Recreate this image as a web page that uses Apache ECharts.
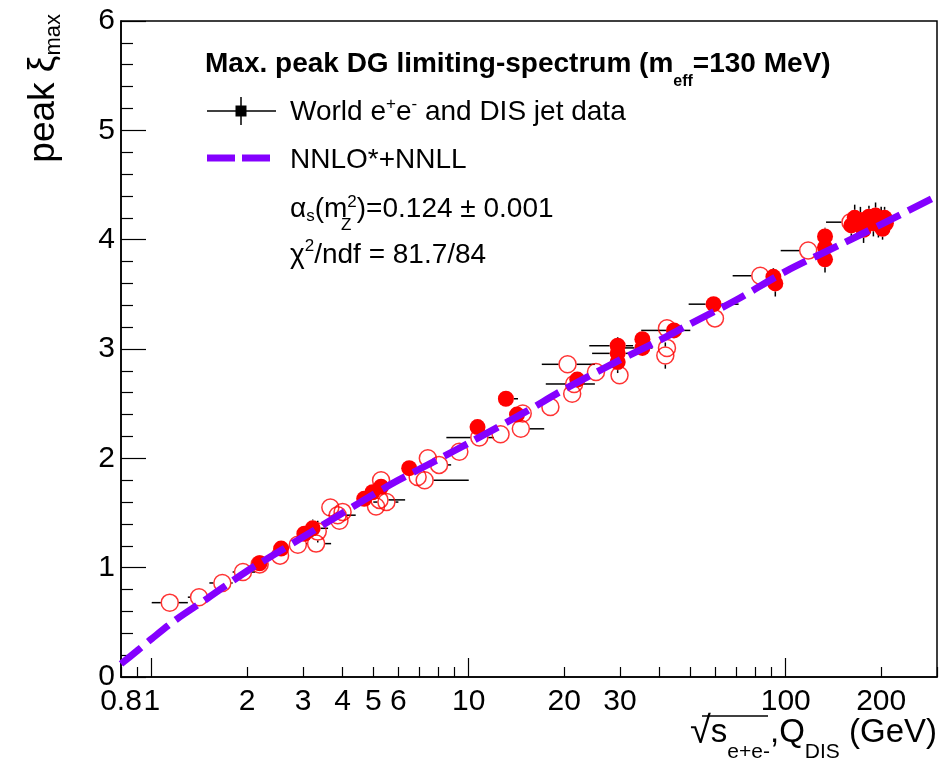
<!DOCTYPE html>
<html><head><meta charset="utf-8">
<script src="https://cdn.jsdelivr.net/npm/echarts@6/dist/echarts.min.js"></script>
<style>html,body{margin:0;padding:0;background:#fff}#c{width:949px;height:763px}</style>
</head><body><div id="c"></div>
<script>
// ---- tick labels / ticks (x in GeV) ----
const xLabelValues = [0.8, 1, 2, 3, 4, 5, 6, 10, 20, 30, 100, 200];
const xMinorTicks = [0.8, 0.9, 2, 3, 4, 5, 6, 7, 8, 9, 20, 30, 40, 50, 60, 70, 80, 90, 200, 300];
const xMajorTicks = [1, 10, 100];
const xRange = [0.8, 300];
const yRange = [0, 6];

// ---- NNLO*+NNLL curve ----
const curveX = [0.8, 0.9, 1.0, 1.2, 1.5, 2.0, 2.5, 3.0, 4.0, 5.0, 6.0, 8.0, 10, 15, 20, 30, 40, 50, 70, 100, 150, 200, 300];
const curveY = [0.12, 0.24, 0.35, 0.53, 0.72, 0.97, 1.14, 1.28, 1.50, 1.67, 1.80, 1.99, 2.14, 2.42, 2.63, 2.90, 3.08, 3.23, 3.45, 3.71, 3.96, 4.14, 4.40];

// ---- data points: [x, y, xLow, xHigh, yErr]  (xLow/xHigh = 0 -> no x error) ----
const openPoints = [
  [1.14, 0.68, 1.00, 1.30, 0.03], [1.41, 0.73, 1.30, 1.52, 0.02], [1.67, 0.86, 1.52, 1.80, 0.02],
  [1.94, 0.96, 1.80, 2.12, 0.03], [2.19, 1.03, 0, 0, 0.02], [2.54, 1.11, 0, 0, 0.03],
  [2.89, 1.21, 0, 0, 0.03], [3.30, 1.22, 3.07, 3.68, 0.03], [3.34, 1.33, 3.10, 3.55, 0.10],
  [3.66, 1.55, 0, 0, 0.03], [3.86, 1.48, 3.60, 4.40, 0.03], [4.00, 1.51, 0, 0, 0.03],
  [3.91, 1.43, 0, 0, 0.03], [5.10, 1.56, 0, 0, 0.03], [5.23, 1.62, 4.90, 6.30, 0.03],
  [5.29, 1.80, 0, 0, 0.03], [5.50, 1.60, 5.00, 6.00, 0.03], [6.90, 1.83, 0, 0, 0.03],
  [7.26, 1.80, 7.00, 10.0, 0.04], [7.43, 2.00, 0, 0, 0.03], [8.06, 1.94, 7.60, 8.80, 0.03],
  [9.34, 2.06, 0, 0, 0.03], [10.8, 2.19, 8.50, 12.0, 0.03], [12.6, 2.22, 0, 0, 0.03],
  [14.8, 2.41, 0, 0, 0.03], [14.6, 2.27, 13.9, 17.3, 0.03], [18.1, 2.47, 0, 0, 0.03],
  [20.5, 2.86, 17.0, 25.0, 0.03], [21.2, 2.59, 0, 0, 0.03], [21.5, 2.68, 17.5, 25.0, 0.03],
  [25.2, 2.79, 0, 0, 0.03], [29.9, 2.76, 0, 0, 0.04], [42.2, 3.19, 0, 0, 0.04],
  [42.2, 3.01, 0, 0, 0.05], [41.7, 2.94, 0, 0, 0.12], [59.8, 3.28, 0, 0, 0.05],
  [83.1, 3.67, 68.0, 88.0, 0.04], [117.7, 3.90, 96.4, 118.5, 0.04], [160, 4.16, 134, 196, 0.05]
];
const filledPoints = [
  [2.19, 1.04, 0, 0, 0.03], [2.56, 1.175, 0, 0, 0.03], [3.03, 1.31, 0, 0, 0.03],
  [3.22, 1.36, 3.10, 3.60, 0.08], [4.68, 1.63, 0, 0, 0.03], [4.97, 1.69, 0, 0, 0.03],
  [5.29, 1.74, 0, 0, 0.03], [6.49, 1.91, 0, 0, 0.03], [10.66, 2.286, 0, 0, 0.03],
  [13.1, 2.545, 12.5, 14.3, 0.04], [14.2, 2.40, 0, 0, 0.04], [22.0, 2.72, 0, 0, 0.04],
  [29.5, 3.03, 24.0, 33.0, 0.08], [29.5, 2.96, 24.5, 33.0, 0.06], [29.5, 2.88, 0, 0, 0.10],
  [35.3, 3.09, 0, 0, 0.06], [35.3, 3.01, 30.0, 38.0, 0.06], [44.4, 3.17, 35.0, 50.0, 0.05],
  [59.2, 3.41, 49.4, 71.0, 0.07], [91.4, 3.66, 0, 0, 0.08], [92.7, 3.60, 0, 0, 0.12],
  [133, 4.03, 0, 0, 0.08], [133, 3.93, 0, 0, 0.08], [133, 3.82, 0, 0, 0.12],
  [161, 4.13, 0, 0, 0.12], [165, 4.20, 0, 0, 0.12], [172, 4.18, 0, 0, 0.12],
  [176, 4.09, 0, 0, 0.12], [183, 4.21, 0, 0, 0.10], [189, 4.15, 0, 0, 0.12],
  [192, 4.22, 0, 0, 0.12], [196, 4.14, 0, 0, 0.12], [200, 4.18, 0, 0, 0.12],
  [202, 4.10, 0, 0, 0.10], [205, 4.20, 0, 0, 0.10], [207, 4.15, 0, 0, 0.10]
];

// ---- build ----
const L = Math.log10;
const FF = '"Liberation Sans", Arial, sans-serif';
const PURPLE = '#8400ff';
const toErr = p => [L(p[0]), p[1], p[2] > 0 ? L(p[2]) : L(p[0]), p[3] > 0 ? L(p[3]) : L(p[0]), p[4]];

function errRender(gap) {
  return function (params, api) {
    const x = api.value(0), y = api.value(1), xl = api.value(2), xh = api.value(3), ye = api.value(4);
    const c = api.coord([x, y]);
    const st = { stroke: '#000', lineWidth: 1.5 };
    const ch = [];
    const pl = api.coord([xl, y]), ph = api.coord([xh, y]);
    if (c[0] - pl[0] > gap) ch.push({ type: 'line', shape: { x1: pl[0], y1: c[1], x2: c[0] - gap, y2: c[1] }, style: st });
    if (ph[0] - c[0] > gap) ch.push({ type: 'line', shape: { x1: c[0] + gap, y1: c[1], x2: ph[0], y2: c[1] }, style: st });
    const pu = api.coord([x, y + ye]), pd = api.coord([x, y - ye]);
    if (c[1] - pu[1] > gap) ch.push({ type: 'line', shape: { x1: c[0], y1: pu[1], x2: c[0], y2: c[1] - gap }, style: st });
    if (pd[1] - c[1] > gap) ch.push({ type: 'line', shape: { x1: c[0], y1: c[1] + gap, x2: c[0], y2: pd[1] }, style: st });
    return { type: 'group', children: ch };
  };
}

const gridRect = { left: 121, right: 12, top: 21, bottom: 86 };
const xBase = { type: 'value', min: L(xRange[0]), max: L(xRange[1]), splitLine: { show: false } };
const fmtX = v => String(Math.round(Math.pow(10, v) * 10) / 10);

const chart = echarts.init(document.getElementById('c'), null, { renderer: 'canvas' });
chart.setOption({
  animation: false,
  backgroundColor: '#fff',
  grid: [
    Object.assign({ show: true, borderColor: '#000', borderWidth: 1.5, backgroundColor: 'transparent' }, gridRect),
    Object.assign({ show: false }, gridRect)
  ],
  xAxis: [
    Object.assign({}, xBase, {
      gridIndex: 0, position: 'bottom',
      axisLine: { show: true, onZero: false, lineStyle: { color: '#000', width: 1.5 } },
      axisTick: { show: true, inside: true, length: 10, customValues: xMinorTicks.map(L), lineStyle: { color: '#000', width: 1.2 } },
      axisLabel: { show: true, customValues: xLabelValues.map(L), formatter: fmtX, color: '#000', fontSize: 30, fontFamily: FF, margin: 10 }
    }),
    Object.assign({}, xBase, {
      gridIndex: 1, position: 'bottom',
      axisLine: { show: false, onZero: false },
      axisTick: { show: true, inside: true, length: 19, customValues: xMajorTicks.map(L), lineStyle: { color: '#000', width: 1.2 } },
      axisLabel: { show: false }
    })
  ],
  yAxis: [
    {
      type: 'value', gridIndex: 0, min: yRange[0], max: yRange[1], interval: 1, position: 'left',
      splitLine: { show: false },
      axisLine: { show: true, onZero: false, lineStyle: { color: '#000', width: 1.5 } },
      axisTick: { show: true, inside: true, length: 25, lineStyle: { color: '#000', width: 1.2 } },
      minorTick: { show: true, splitNumber: 5, length: 12, lineStyle: { color: '#000', width: 1.2 } },
      axisLabel: { color: '#000', fontSize: 30, fontFamily: FF, margin: 6 }
    },
    { type: 'value', gridIndex: 1, min: yRange[0], max: yRange[1], show: false, axisLine: { onZero: false } }
  ],
  series: [
    { type: 'custom', xAxisIndex: 0, yAxisIndex: 0, renderItem: errRender(9), data: openPoints.map(toErr), encode: { x: 0, y: 1 }, z: 2, silent: true },
    { type: 'custom', xAxisIndex: 0, yAxisIndex: 0, renderItem: errRender(8), data: filledPoints.map(toErr), encode: { x: 0, y: 1 }, z: 2, silent: true },
    { type: 'scatter', xAxisIndex: 0, yAxisIndex: 0, symbol: 'circle', symbolSize: 17, z: 3, silent: true,
      itemStyle: { color: 'rgba(0,0,0,0)', borderColor: '#ff0000', borderWidth: 1.5 },
      data: openPoints.map(p => [L(p[0]), p[1]]) },
    { type: 'scatter', xAxisIndex: 0, yAxisIndex: 0, symbol: 'circle', symbolSize: 16, z: 4, silent: true,
      itemStyle: { color: '#ff0000', opacity: 1 },
      data: filledPoints.map(p => [L(p[0]), p[1]]) },
    { type: 'line', xAxisIndex: 0, yAxisIndex: 0, showSymbol: false, smooth: 0.3, z: 5, silent: true,
      lineStyle: { color: PURPLE, width: 7, type: [26, 9], cap: 'butt' },
      data: curveX.map((x, i) => [L(x), curveY[i]]) }
  ],
  graphic: [
    // legend header
    { type: 'text', x: 205, y: 64, style: { text: '{m|Max. peak DG limiting-spectrum (m}{s|eff}{m|=130 MeV)}', verticalAlign: 'middle', fill: '#000',
      rich: { m: { fontSize: 28, fontWeight: 'bold', fontFamily: FF, lineHeight: 52 }, s: { fontSize: 16, fontWeight: 'bold', fontFamily: FF, lineHeight: 16, verticalAlign: 'bottom' } } } },
    // data marker
    { type: 'line', shape: { x1: 207, y1: 111, x2: 276, y2: 111 }, style: { stroke: '#000', lineWidth: 1.5 } },
    { type: 'line', shape: { x1: 241, y1: 97, x2: 241, y2: 125 }, style: { stroke: '#000', lineWidth: 1.5 } },
    { type: 'rect', shape: { x: 235.5, y: 105.5, width: 11, height: 11 }, style: { fill: '#000' } },
    { type: 'text', x: 290, y: 112, style: { text: '{m|World e}{p|+}{m|e}{p|-}{m| and DIS jet data}', verticalAlign: 'middle', fill: '#000',
      rich: { m: { fontSize: 28, fontFamily: FF, lineHeight: 33 }, p: { fontSize: 17, fontFamily: FF, lineHeight: 17, verticalAlign: 'top' } } } },
    // curve marker
    { type: 'rect', shape: { x: 207, y: 154.5, width: 28, height: 7 }, style: { fill: PURPLE } },
    { type: 'rect', shape: { x: 242, y: 154.5, width: 28, height: 7 }, style: { fill: PURPLE } },
    { type: 'text', x: 290, y: 160, style: { text: 'NNLO*+NNLL', verticalAlign: 'middle', fill: '#000', fontSize: 28, fontFamily: FF } },
    // alpha_s line
    { type: 'text', x: 290, y: 209, style: { text: '{m|α}{b|s}{m|(m}{p|2}{m|)=0.124 ± 0.001}', verticalAlign: 'middle', fill: '#000',
      rich: { m: { fontSize: 28, fontFamily: FF, lineHeight: 31 }, b: { fontSize: 17, fontFamily: FF, lineHeight: 17, verticalAlign: 'bottom' }, p: { fontSize: 17, fontFamily: FF, lineHeight: 17, verticalAlign: 'top' } } } },
    { type: 'text', x: 341, y: 225, style: { text: 'Z', verticalAlign: 'middle', fill: '#000', fontSize: 17, fontFamily: FF } },
    // chi2 line
    { type: 'text', x: 290, y: 255, style: { text: '{m|χ}{p|2}{m|/ndf = 81.7/84}', verticalAlign: 'middle', fill: '#000',
      rich: { m: { fontSize: 28, fontFamily: FF, lineHeight: 35 }, p: { fontSize: 17, fontFamily: FF, lineHeight: 17, verticalAlign: 'top' } } } },
    // y title
    { type: 'text', x: 44, y: 14, rotation: Math.PI / 2, style: { text: '{m|peak ξ}{b|max}', align: 'right', verticalAlign: 'middle', fill: '#000',
      rich: { m: { fontSize: 37, fontFamily: FF, lineHeight: 42 }, b: { fontSize: 22, fontFamily: FF, lineHeight: 22, verticalAlign: 'bottom' } } } },
    // x title
    { type: 'text', x: 937, y: 733, style: { text: '{r|√}{m|s}{b|e+e-}{m|,Q}{b|DIS}{m| (GeV)}', align: 'right', verticalAlign: 'middle', fill: '#000',
      rich: { m: { fontSize: 33, fontFamily: FF, lineHeight: 60 }, r: { fontSize: 38, fontFamily: FF, lineHeight: 60 }, b: { fontSize: 21, fontFamily: FF, lineHeight: 21, verticalAlign: 'bottom' } } } },
    { type: 'line', shape: { x1: 702, y1: 716, x2: 768, y2: 716 }, style: { stroke: '#000', lineWidth: 1.5 } }
  ]
});
</script>
</body></html>
